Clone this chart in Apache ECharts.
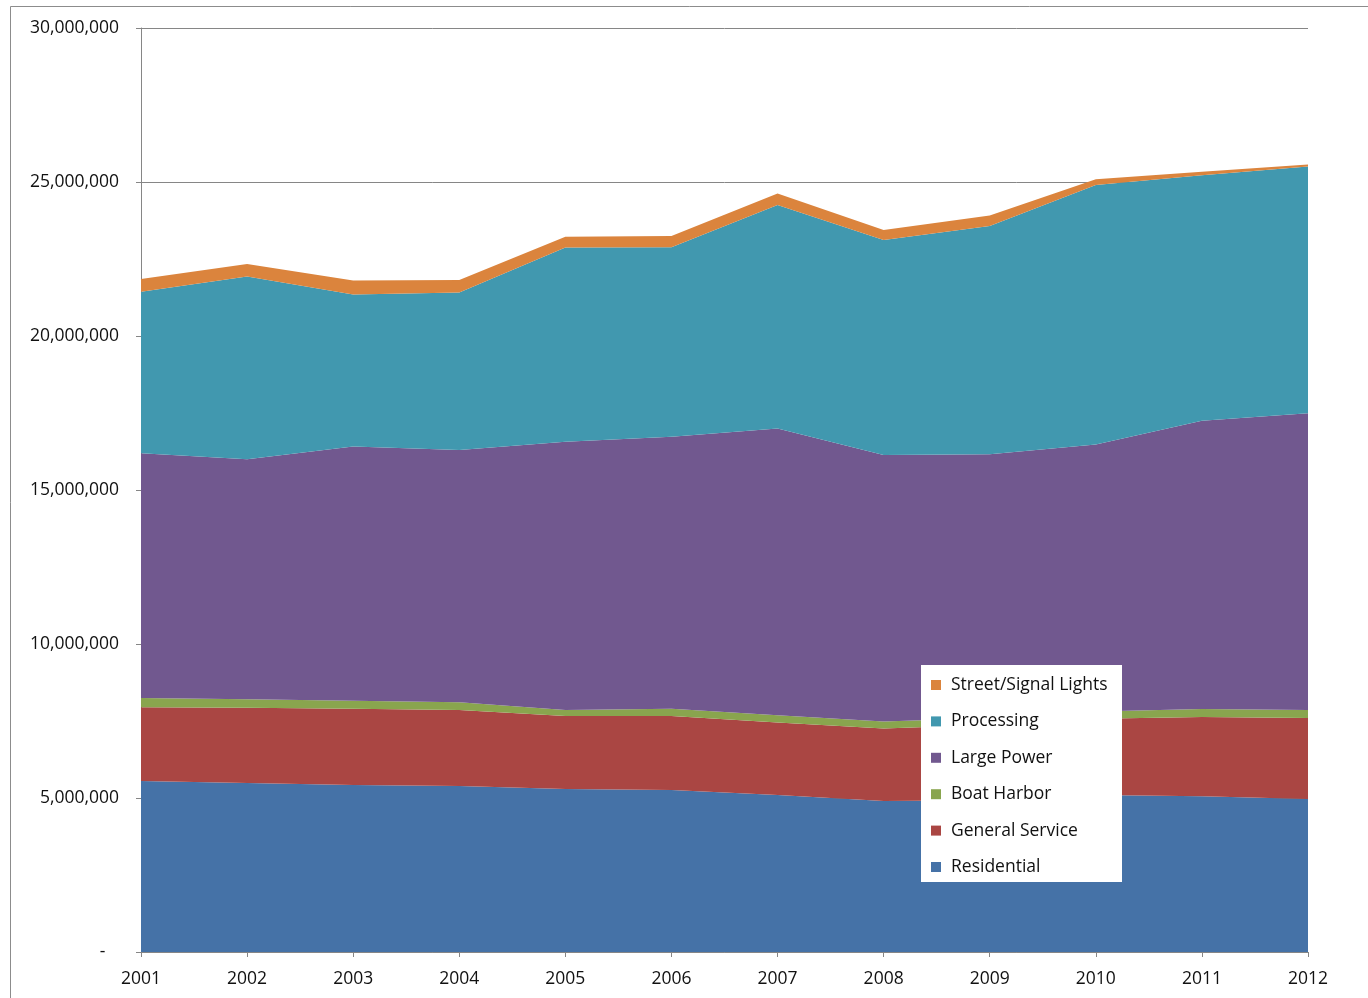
<!DOCTYPE html>
<html>
<head>
<meta charset="utf-8">
<title>Sales by rate class</title>
<script src="https://cdn.jsdelivr.net/npm/echarts@6.0.0/dist/echarts.min.js"></script>
<style>
  html, body { margin: 0; padding: 0; background: #fff; }
  #chart { width: 1368px; height: 998px; }
</style>
</head>
<body>
<div id="chart"></div>
<script>
var years = ['2001', '2002', '2003', '2004', '2005', '2006', '2007', '2008', '2009', '2010', '2011', '2012'];

// values, in millions
var residential = [5.55, 5.49, 5.42, 5.39, 5.29, 5.26, 5.10, 4.90, 4.93, 5.10, 5.06, 4.97];
var generalService = [2.40, 2.44, 2.48, 2.47, 2.37, 2.40, 2.35, 2.36, 2.45, 2.47, 2.57, 2.63];
var boatHarbor = [0.30, 0.28, 0.26, 0.25, 0.20, 0.24, 0.24, 0.22, 0.22, 0.24, 0.26, 0.26];
var largePower = [7.94, 7.79, 8.25, 8.19, 8.71, 8.83, 9.31, 8.66, 8.56, 8.67, 9.36, 9.63];
var processing = [5.25, 5.93, 4.94, 5.11, 6.30, 6.15, 7.25, 6.98, 7.41, 8.42, 7.97, 8.01];
var streetLights = [0.41, 0.41, 0.45, 0.41, 0.35, 0.37, 0.38, 0.32, 0.34, 0.19, 0.11, 0.07];

var seriesNames = ['Residential', 'General Service', 'Boat Harbor', 'Large Power', 'Processing', 'Street/Signal Lights'];
var seriesData = [residential, generalService, boatHarbor, largePower, processing, streetLights];
var colors = ['#4572A7', '#AA4643', '#89A54E', '#71588F', '#4198AF', '#DB843D'];

var FONT = 'Open Sans';
var FONT_SIZE = 17.5;

function fmt(v) {
  if (v === 0) return '-   ';
  return v.toString().replace(/\B(?=(\d{3})+(?!\d))/g, ',');
}

var series = seriesNames.map(function (name, i) {
  return {
    name: name,
    type: 'line',
    stack: 'total',
    symbol: 'none',
    lineStyle: { width: 0 },
    areaStyle: { color: colors[i], opacity: 1 },
    itemStyle: { color: colors[i] },
    emphasis: { disabled: true },
    data: seriesData[i].map(function (v) { return Math.round(v * 1000000); })
  };
});

var option = {
  animation: false,
  backgroundColor: '#fff',
  grid: { left: 141, right: 60, top: 28, bottom: 46 },
  graphic: [{
    type: 'rect',
    z: 0,
    shape: { x: 10.5, y: 6.5, width: 1400, height: 1000 },
    style: { fill: 'none', stroke: '#8c8c8c', lineWidth: 1 }
  }, {
    type: 'rect',
    z: 5,
    shape: { x: 921, y: 665, width: 201, height: 217 },
    style: { fill: '#fff' }
  }],
  legend: {
    z: 10,
    orient: 'vertical',
    left: 921,
    top: 665,
    padding: [11, 10, 9, 10],
    itemWidth: 10,
    itemHeight: 10,
    itemGap: 18.4,
    icon: 'rect',
    data: seriesNames.slice().reverse(),
    textStyle: { fontFamily: FONT, fontSize: FONT_SIZE, color: '#111', padding: [0, 0, 0, 5] }
  },
  xAxis: {
    type: 'category',
    boundaryGap: false,
    data: years,
    axisLine: { lineStyle: { color: '#868686' } },
    axisTick: { show: true, length: 5, lineStyle: { color: '#868686' } },
    axisLabel: { margin: 18, fontFamily: FONT, fontSize: FONT_SIZE, color: '#111' }
  },
  yAxis: {
    type: 'value',
    min: 0,
    max: 30000000,
    interval: 5000000,
    axisLine: { show: true, lineStyle: { color: '#868686' } },
    axisTick: { show: true, length: 5, lineStyle: { color: '#868686' } },
    splitLine: { lineStyle: { color: '#868686', width: 1 } },
    axisLabel: { margin: 22, fontFamily: FONT, fontSize: FONT_SIZE, color: '#111', formatter: fmt }
  },
  series: series
};

var chart = echarts.init(document.getElementById('chart'));
chart.setOption(option);
</script>
</body>
</html>
